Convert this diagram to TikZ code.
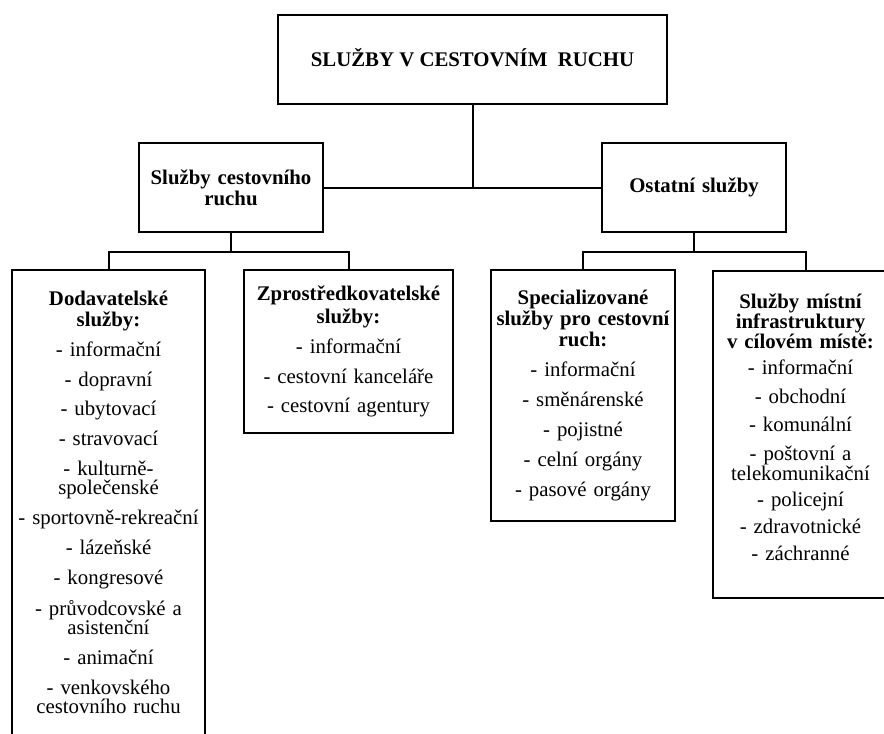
\documentclass[tikz,border=0pt]{standalone}
\usepackage{fontspec}
\setmainfont{Liberation Serif}
\begin{document}
\begin{tikzpicture}[x=0.75pt,y=-0.75pt,
  font=\fontsize{15.6}{14.6}\selectfont,
  box/.style={draw,line width=1.5pt,inner sep=1pt,align=center},
  conn/.style={line width=1.5pt},
  midbox/.style={box,minimum width=138pt,minimum height=66.75pt,text width=134pt,font=\fontsize{15.6}{14.6}\selectfont\bfseries},
  boxtext/.style={inner sep=0pt,align=center,anchor=base}
]
\useasboundingbox (0,0) rectangle (884,733);

\node[box,minimum width=291.75pt,minimum height=66.75pt,text height=10.5pt,text depth=0pt,font=\fontsize{15.6}{14.6}\selectfont\bfseries] (top) at (472.5,59.5) {SLUŽBY V CESTOVNÍM~~RUCHU};

\node[midbox] (mid1) at (231,187.5) {Služby cestovního\\[1.1pt]ruchu};
\node[midbox] (mid2) at (694,187.5) {Ostatní služby};

\node[box,anchor=north,minimum width=144.75pt,minimum height=348.75pt,text width=140pt] (b1) at (108.5,269) {%
{\bfseries Dodavatelské}\\[1.1pt]{\bfseries služby:}\\[7.9pt]
- informační\\[7.7pt]
- dopravní\\[7.7pt]
- ubytovací\\[7.7pt]
- stravovací\\[7.7pt]
- kulturně-\\
společenské\\[7.7pt]
- sportovně-rekreační\\[7.7pt]
- lázeňské\\[7.7pt]
- kongresové\\[7.7pt]
- průvodcovské a\\
asistenční\\[7.7pt]
- animační\\[7.7pt]
- venkovského\\
cestovního ruchu};

\node[box,anchor=north,minimum width=156.75pt,minimum height=122.25pt,text width=150pt] (b2) at (348.5,269) {%
{\bfseries Zprostředkovatelské}\\[2.3pt]{\bfseries služby:}\\[7.6pt]
- informační\\[7.9pt]
- cestovní kanceláře\\[7.3pt]
- cestovní agentury};

\node[box,anchor=north,minimum width=138pt,minimum height=188.25pt,text width=134pt] (b3) at (583,269) {%
{\bfseries Specializované}\\[1.1pt]{\bfseries služby pro cestovní}\\[1.1pt]{\bfseries ruch:}\\[7.9pt]
- informační\\[7.9pt]
- směnárenské\\[7.9pt]
- pojistné\\[7.9pt]
- celní orgány\\[7.9pt]
- pasové orgány};

\node[box,anchor=north,minimum width=131.25pt,minimum height=245.25pt] (b4) at (800.5,270) {};
\node[boxtext,text width=128pt] (b4t) at (800.5,308) {%
{\bfseries Služby místní}\\[0.5pt]{\bfseries infrastruktury}\\[0.5pt]{\bfseries v cílovém místě:}\\[5.2pt]
- informační\\[7.2pt]
- obchodní\\[6.5pt]
- komunální\\[6.5pt]
- poštovní a\\[0.5pt]
telekomunikační\\[5.5pt]
- policejní\\[5.5pt]
- zdravotnické\\[5.5pt]
- záchranné};

% connectors
\draw[conn] (mid1.east) -- (mid2.west);
\draw[conn] (top.south) -- (top.south |- mid1.east);

\coordinate (bus1) at (231,252);
\coordinate (bus2) at (694,252);
\coordinate (b4top) at ([xshift=4.1pt]b4.north);
\draw[conn] (mid1.south) -- (bus1);
\draw[conn] (b1.north) |- (bus1) -| (b2.north);
\draw[conn] (mid2.south) -- (bus2);
\draw[conn] (b3.north) |- (bus2) -| (b4top);
\end{tikzpicture}
\end{document}
